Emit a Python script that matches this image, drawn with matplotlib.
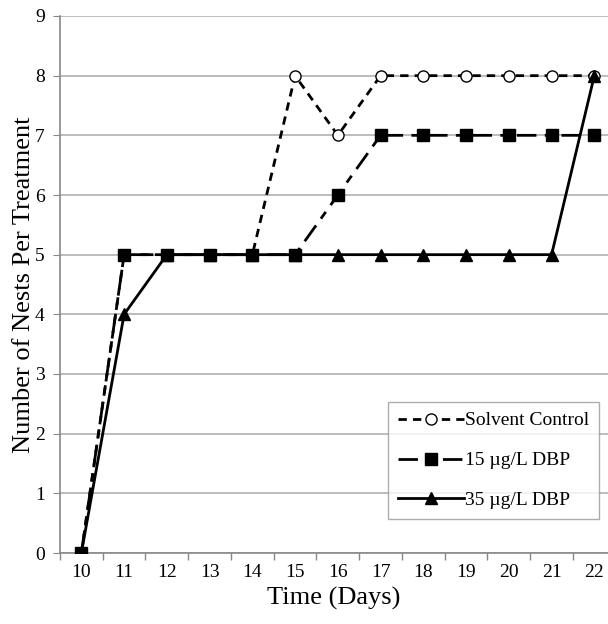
import matplotlib
matplotlib.use("Agg")
import matplotlib.pyplot as plt
from matplotlib.ticker import FixedLocator

days = [10, 11, 12, 13, 14, 15, 16, 17, 18, 19, 20, 21, 22]
solvent = [0, 5, 5, 5, 5, 8, 7, 8, 8, 8, 8, 8, 8]
dbp15 = [0, 5, 5, 5, 5, 5, 6, 7, 7, 7, 7, 7, 7]
dbp35 = [0, 4, 5, 5, 5, 5, 5, 5, 5, 5, 5, 5, 8]
labels = ["Solvent Control", "15 \u00b5g/L DBP", "35 \u00b5g/L DBP"]

plt.rcParams['font.family'] = ['Liberation Serif', 'DejaVu Serif']

fig = plt.figure(figsize=(6.08, 6.24), dpi=100)
ax = fig.add_axes([60/608, 71/624, 548/608, 537/624])

ax.plot(days, solvent, color='black', lw=2, dashes=(3, 2.2), marker='o', ms=8,
        mfc='white', mec='black', mew=1, label=labels[0], zorder=3)
ax.plot(days, dbp15, color='black', lw=2, dashes=(7, 3, 3, 3), marker='s', ms=8,
        mfc='black', mec='black', label=labels[1], zorder=4)
ax.plot(days, dbp35, color='black', lw=2, ls='-', marker='^', ms=8,
        mfc='black', mec='black', label=labels[2], zorder=5)

ax.set_xlim(9.5, 22.32)
ax.set_ylim(0, 9)
ax.set_yticks(range(0, 10))
ax.set_xticks(days)
ax.xaxis.set_minor_locator(FixedLocator([d + 0.5 for d in [9] + days]))
ax.tick_params(axis='x', which='major', length=0, labelsize=14, pad=8)
ax.tick_params(axis='x', which='minor', length=5, color='#888888', width=1)
ax.tick_params(axis='y', length=5, color='#888888', labelsize=14, pad=6)

ax.yaxis.grid(True, color='#b0b0b0', lw=1.2)
ax.set_axisbelow(True)
for s in ['top', 'right']:
    ax.spines[s].set_visible(False)
for s in ['left', 'bottom']:
    ax.spines[s].set_color('#888888')
    ax.spines[s].set_linewidth(1.2)

ax.set_xlabel('Time (Days)', fontsize=19, labelpad=4)
ax.set_ylabel('Number of Nests Per Treatment', fontsize=19, labelpad=0)

leg = ax.legend(loc='upper left', bbox_to_anchor=(388/608, 1 - 402/624),
                bbox_transform=fig.transFigure, fontsize=14, frameon=True,
                fancybox=False, edgecolor='#999999', handlelength=3.4,
                labelspacing=1.15, borderpad=0.5, handletextpad=0.05,
                borderaxespad=0)
leg.get_frame().set_linewidth(1.0)

fig.savefig('out.png', dpi=100)
